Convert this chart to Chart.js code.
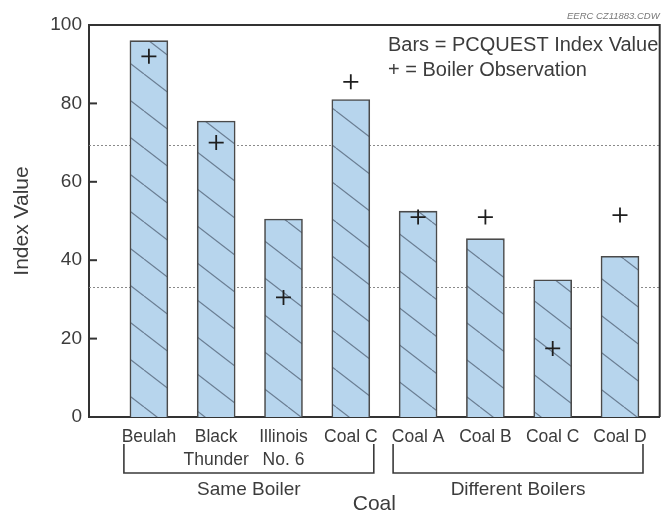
<!DOCTYPE html>
<html>
<head>
<meta charset="utf-8">
<script src="https://cdn.jsdelivr.net/npm/chart.js@4"></script>
<style>
  html, body { margin: 0; padding: 0; background: #ffffff; }
  #wrap { width: 669px; height: 512px; position: relative; }
</style>
</head>
<body>
<div id="wrap"><canvas id="c" width="669" height="512"></canvas></div>
<script>
// ---- data ----
const categories = [['Beulah'], ['Black', 'Thunder'], ['Illinois', 'No. 6'], ['Coal C'], ['Coal A'], ['Coal B'], ['Coal C'], ['Coal D']];
const pcquestIndex = [96, 75.5, 50.5, 81, 52.5, 45.5, 35, 41];
const boilerObservation = [92, 70, 30.5, 85.5, 51, 51, 17.5, 51.5];
const yTickValues = [0, 20, 40, 60, 80, 100];
const referenceLines = [69.5, 33.2];
const groupLabels = ['Same Boiler', 'Different Boilers'];
const groupStart = [0, 4];
const groupEnd = [3, 7];
const legendLines = ['Bars = PCQUEST Index Value', '+ = Boiler Observation'];
const sourceNote = 'EERC CZ11883.CDW';
const xTitle = 'Coal';
const yTitle = 'Index Value';

const FONT = '"Liberation Sans", Arial, Helvetica, sans-serif';
const TEXT = '#3c3c3c';

// hatch pattern for bars
function makePattern() {
  const w = 48, h = 37;
  const pc = document.createElement('canvas');
  pc.width = w; pc.height = h;
  const g = pc.getContext('2d');
  g.fillStyle = '#b7d5ed';
  g.fillRect(0, 0, w, h);
  g.strokeStyle = 'rgba(80,95,115,0.75)';
  g.lineWidth = 1.2;
  for (const k of [-w, 0, w]) {
    g.beginPath();
    g.moveTo(k, 0);
    g.lineTo(k + w, h);
    g.stroke();
  }
  return g.createPattern(pc, 'repeat');
}

const barData = pcquestIndex.map((v, i) => ({ x: i, y: v }));
const obsData = boilerObservation.map((v, i) => ({ x: i, y: v }));

const decorations = {
  id: 'decorations',
  beforeDatasetsDraw(chart) {
    const { ctx, chartArea: a, scales: { y } } = chart;
    ctx.save();
    ctx.strokeStyle = '#8a8a8a';
    ctx.lineWidth = 1;
    ctx.setLineDash([2, 2]);
    for (const v of referenceLines) {
      const py = Math.round(y.getPixelForValue(v)) + 0.5;
      ctx.beginPath();
      ctx.moveTo(a.left, py);
      ctx.lineTo(a.right, py);
      ctx.stroke();
    }
    ctx.restore();
  },
  afterDatasetsDraw(chart) {
    const { ctx, chartArea: a, scales: { x, y } } = chart;
    ctx.save();
    // frame top & right
    ctx.strokeStyle = '#333';
    ctx.lineWidth = 2;
    ctx.beginPath();
    ctx.moveTo(a.left, a.top);
    ctx.lineTo(a.right, a.top);
    ctx.lineTo(a.right, a.bottom);
    ctx.stroke();
    // inward y ticks
    for (const v of yTickValues) {
      if (v === y.min || v === y.max) continue;
      const py = y.getPixelForValue(v);
      ctx.beginPath();
      ctx.moveTo(a.left, py);
      ctx.lineTo(a.left + 8, py);
      ctx.stroke();
    }
    // brackets and group labels
    ctx.strokeStyle = '#3a3a3a';
    ctx.lineWidth = 1.6;
    ctx.fillStyle = TEXT;
    ctx.font = '19px ' + FONT;
    ctx.textAlign = 'center';
    ctx.textBaseline = 'middle';
    const yTop = a.bottom + 27, yBot = a.bottom + 56;
    groupLabels.forEach((lab, gi) => {
      const x0 = x.getPixelForValue(groupStart[gi]) - 25;
      const x1 = x.getPixelForValue(groupEnd[gi]) + 23;
      ctx.beginPath();
      ctx.moveTo(x0, yTop);
      ctx.lineTo(x0, yBot);
      ctx.lineTo(x1, yBot);
      ctx.lineTo(x1, yTop);
      ctx.stroke();
      ctx.fillText(lab, (x0 + x1) / 2, a.bottom + 73);
    });
    // legend text
    ctx.textAlign = 'left';
    ctx.font = '20px ' + FONT;
    legendLines.forEach((t, i) => ctx.fillText(t, 388, 45 + i * 25));
    // source note
    ctx.textAlign = 'right';
    ctx.font = 'italic 9.5px ' + FONT;
    ctx.fillStyle = '#777';
    ctx.fillText(sourceNote, a.right, 16);
    ctx.restore();
  }
};

new Chart(document.getElementById('c'), {
  type: 'bar',
  data: {
    datasets: [
      {
        type: 'scatter',
        label: 'Boiler Observation',
        data: obsData,
        pointStyle: 'cross',
        pointRadius: 7.5,
        pointHoverRadius: 7.5,
        borderColor: '#1e1e1e',
        backgroundColor: '#1e1e1e',
        borderWidth: 1.8,
        order: 0
      },
      {
        type: 'bar',
        label: 'PCQUEST Index Value',
        data: barData,
        backgroundColor: makePattern(),
        borderColor: '#4a4a4a',
        borderWidth: 1.6,
        borderSkipped: 'bottom',
        barThickness: 38,
        order: 1
      }
    ]
  },
  options: {
    responsive: false,
    animation: false,
    layout: { padding: { top: 25, right: 2, left: 0, bottom: 0 } },
    plugins: { legend: { display: false }, tooltip: { enabled: false }, title: { display: false } },
    scales: {
      x: {
        type: 'linear',
        min: -0.89,
        max: 7.59,
        offset: false,
        grid: { display: false, drawTicks: false },
        border: { display: true, color: '#333', width: 2 },
        ticks: {
          stepSize: 1,
          includeBounds: false,
          autoSkip: false,
          maxRotation: 0,
          padding: 8,
          color: TEXT,
          font: { family: FONT, size: 17.5, lineHeight: 1.35 },
          callback: (v) => Number.isInteger(v) && categories[v] ? categories[v] : ''
        },
        title: {
          display: true,
          text: xTitle,
          color: TEXT,
          font: { family: FONT, size: 21, lineHeight: 0.75 },
          padding: { top: 0, bottom: 0 }
        },
        afterFit: (s) => { s.height = 95; }
      },
      y: {
        min: 0,
        max: 100,
        grid: { display: false, drawTicks: false },
        border: { display: true, color: '#333', width: 2 },
        ticks: {
          stepSize: 20,
          padding: 7,
          color: TEXT,
          font: { family: FONT, size: 19 }
        },
        title: {
          display: true,
          text: yTitle,
          color: TEXT,
          font: { family: FONT, size: 21, lineHeight: 1.2 },
          padding: { top: 10, bottom: 0 }
        },
        afterFit: (s) => { s.width = 89; }
      }
    }
  },
  plugins: [decorations]
});
</script>
</body>
</html>
